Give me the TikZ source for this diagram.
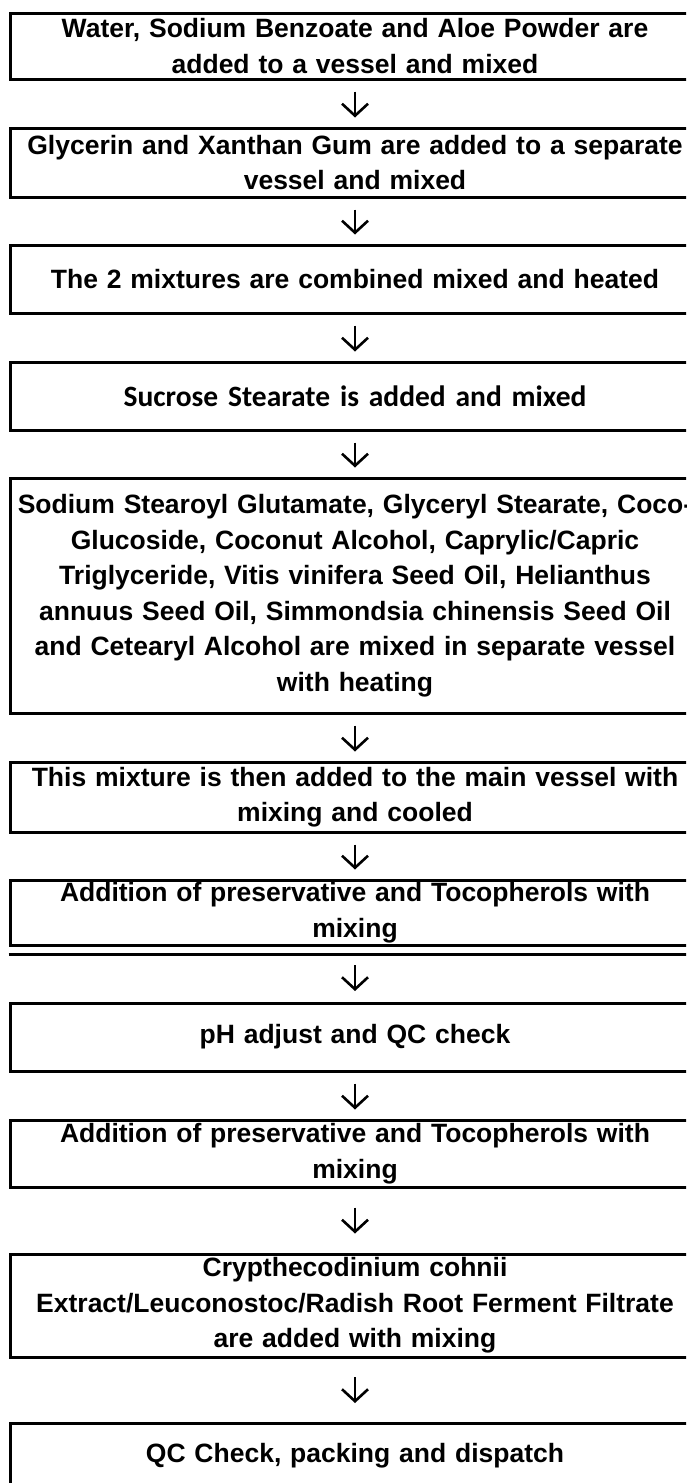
\documentclass[tikz,border=0pt]{standalone}
\usepackage{fontspec}
\setmainfont{Liberation Sans}
\newfontfamily\calibfont{Carlito}
\usetikzlibrary{arrows.meta}
\begin{document}
\begin{tikzpicture}[x=1pt,y=-1pt,
  box/.style={draw, line width=3pt, minimum width=690pt, text width=690pt,
    inner sep=0pt, align=center, font=\bfseries\fontsize{26.5}{35.5}\selectfont},
  calbox/.style={box, font=\calibfont\bfseries\fontsize{29.5}{35}\selectfont},
  arr/.style={line width=2.6pt, -{Straight Barb[length=12pt,width=26pt]}}]
\useasboundingbox (0,0) rectangle (686,1483);
\clip (0,0) rectangle (686,1483);
\node[box, minimum height=66pt] (b1) at (355,46) {Water, Sodium Benzoate and Aloe Powder are\\added to a vessel and mixed};
\node[box, minimum height=69pt] (b2) at (355,162.5) {Glycerin and Xanthan Gum are added to a separate\\vessel and mixed};
\node[box, minimum height=68pt] (b3) at (355,279) {The 2 mixtures are combined mixed and heated};
\node[calbox, minimum height=68pt] (b4) at (355,396) {Sucrose Stearate is added and mixed};
\node[box, minimum height=235pt] (b5) at (355,595.5) {Sodium Stearoyl Glutamate, Glyceryl Stearate, Coco-\\Glucoside, Coconut Alcohol, Caprylic/Capric\\Triglyceride, Vitis vinifera Seed Oil, Helianthus\\annuus Seed Oil, Simmondsia chinensis Seed Oil\\and Cetearyl Alcohol are mixed in separate vessel\\with heating};
\node[box, minimum height=70pt] (b6) at (355,797) {This mixture is then added to the main vessel with\\mixing and cooled};
\node[box, minimum height=65pt] (b7) at (355,912.5) {Addition of preservative and Tocopherols with\\mixing};
\draw[line width=3pt] ([yshift=-8pt]b7.south west) -- ([yshift=-8pt]b7.south east);
\node[box, minimum height=68pt] (b8) at (355,1037) {pH adjust and QC check};
\node[box, minimum height=67pt] (b9) at (355,1153.5) {Addition of preservative and Tocopherols with\\mixing};
\node[box, minimum height=103pt] (b10) at (355,1305.5) {Crypthecodinium cohnii\\Extract/Leuconostoc/Radish Root Ferment Filtrate\\are added with mixing};
\node[box, minimum height=66pt] (b11) at (355,1456) {QC Check, packing and dispatch};
\draw[arr, shorten <=11pt, shorten >=9pt] (b1) -- (b2);
\draw[arr, shorten <=11pt, shorten >=9pt] (b2) -- (b3);
\draw[arr, shorten <=11pt, shorten >=9pt] (b3) -- (b4);
\draw[arr, shorten <=11pt, shorten >=9pt] (b4) -- (b5);
\draw[arr, shorten <=11pt, shorten >=9pt] (b5) -- (b6);
\draw[arr, shorten <=11pt, shorten >=9pt] (b6) -- (b7);
\draw[arr, shorten <=18.5pt, shorten >=10.5pt] (b7) -- (b8);
\draw[arr, shorten <=11pt, shorten >=9pt] (b8) -- (b9);
\draw[arr, shorten <=19pt, shorten >=19pt] (b9) -- (b10);
\draw[arr, shorten <=18.5pt, shorten >=18.5pt] (b10) -- (b11);
\end{tikzpicture}
\end{document}
